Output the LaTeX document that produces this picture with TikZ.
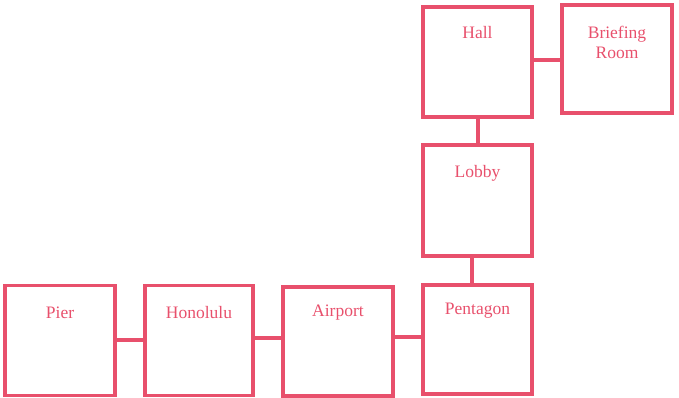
\documentclass[tikz,border=0pt]{standalone}
\usepackage{fontspec}
\setmainfont{Liberation Serif}
\definecolor{pk}{HTML}{E8506C}
\begin{document}
\begin{tikzpicture}[x=1pt,y=-1pt,
  room/.style={draw=pk, line width=3.2pt, inner sep=0pt, outer sep=0pt},
  lbl/.style={text=pk, font=\fontsize{17.5}{20}\selectfont, align=center, inner sep=0pt},
  link/.style={draw=pk, line width=3.2pt}]
\useasboundingbox (0,0) rectangle (679,397);
\node[room, minimum width=109pt, minimum height=110pt] (hall) at (477.5,62) {};
\node[room, minimum width=110pt, minimum height=108pt] (brief) at (617,59) {};
\node[room, minimum width=109pt, minimum height=111pt] (lobby) at (477.5,200.5) {};
\node[room, minimum width=109pt, minimum height=109pt] (pent) at (477.5,339.5) {};
\node[room, minimum width=110pt, minimum height=109pt] (air) at (338,341.5) {};
\node[room, minimum width=108pt, minimum height=110pt] (hono) at (199,340.5) {};
\node[room, minimum width=110pt, minimum height=110pt] (pier) at (60,340.5) {};
\node[lbl] (thall) at ([yshift=-26pt]hall.north) {Hall};
\node[lbl] (tbrief) at ([yshift=-37pt]brief.north) {Briefing\\Room};
\node[lbl] (tlobby) at ([yshift=-28pt]lobby.north) {Lobby};
\node[lbl] (tpent) at ([yshift=-26pt]pent.north) {Pentagon};
\node[lbl] (tair) at ([yshift=-26pt]air.north) {Airport};
\node[lbl] (thono) at ([yshift=-27pt]hono.north) {Honolulu};
\node[lbl] (tpier) at ([yshift=-27pt]pier.north) {Pier};
\draw[link] (hall.east |- 0,60) -- (brief.west |- 0,60);
\draw[link] (hall.south -| 478,0) -- (lobby.north -| 478,0);
\draw[link] (lobby.south -| 472,0) -- (pent.north -| 472,0);
\draw[link] (pent.west |- 0,337) -- (air.east |- 0,337);
\draw[link] (air.west |- 0,338) -- (hono.east |- 0,338);
\draw[link] (hono.west |- 0,340) -- (pier.east |- 0,340);
\end{tikzpicture}
\end{document}
